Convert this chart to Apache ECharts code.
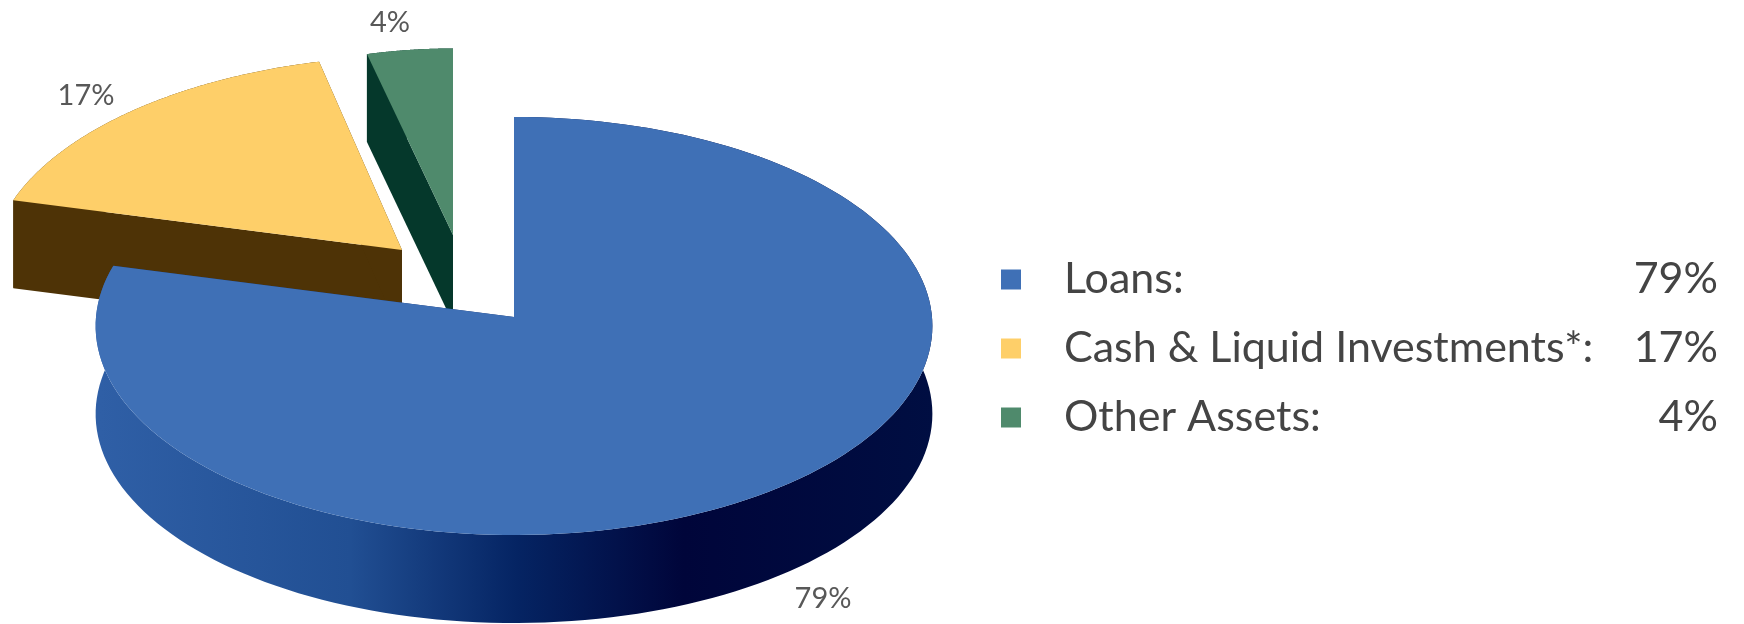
<!DOCTYPE html>
<html>
<head>
<meta charset="utf-8">
<style>html,body{margin:0;padding:0;background:#fff}#chart{width:1744px;height:624px}</style>
<script src="https://cdn.jsdelivr.net/npm/echarts@6/dist/echarts.min.js"></script>
</head>
<body>
<div id="chart"></div>
<script>
// Asset mix, in percent
const categories = ['Loans', 'Cash & Liquid Investments*', 'Other Assets'];
const shares = [79, 17, 4];

// Look of each slice
const topColors = ['#3f70b6', '#fecf69', '#4f8a6c'];
const cutColors = ['#17336e', '#4e3306', '#05382b'];
const rimStops = [
  [[0, '#2f5fa6'], [0.3, '#214f93'], [0.5, '#052463'], [0.7, '#00053a'], [1, '#000e42']],
  [[0, '#4e3306'], [1, '#4e3306']],
  [[0, '#05382b'], [1, '#05382b']]
];
const pullX = [0, -112, -61];
const pullY = [0, -67, -82];
const radiusScaleX = [1, 0.98, 0.86];
const radiusScaleY = [1, 0.97, 0.93];
const shear = [0, 0.08, 0];
const labelX = [823, 86, 390];
const labelY = [599, 96, 23];

// Projection of the tilted disc: the far side of the rim is drawn slightly smaller
const centerX = 514, centerY = 317, radiusX = 418, radiusY = 208.6, tilt = 0.043, depth = 88;
const total = shares.reduce((a, b) => a + b, 0);

function project(angle, i) {
  const x = Math.sin(angle) * radiusScaleX[i], y = Math.cos(angle) * radiusScaleY[i];
  const k = 1 / (1 + tilt * y);
  const dy = y * radiusY * k;
  return [centerX + pullX[i] + x * radiusX * k + shear[i] * dy, centerY + pullY[i] - dy];
}

function sliceItem(i) {
  return function (params, api) {
    const start = shares.slice(0, i).reduce((a, b) => a + b, 0);
    const a0 = start / total * Math.PI * 2;
    const a1 = a0 + api.value(0) / total * Math.PI * 2;
    const n = 160;
    const arc = [];
    for (let s = 0; s <= n; s++) arc.push(project(a0 + (a1 - a0) * s / n, i));
    const apex = [centerX + pullX[i], centerY + pullY[i]];
    const down = p => [p[0], p[1] + depth];
    const rim = arc.concat(arc.slice().reverse().map(down));
    const last = arc[arc.length - 1], first = arc[0];
    return {
      type: 'group',
      children: [
        { type: 'polygon', shape: { points: [apex, first, down(first), down(apex)] }, style: { fill: cutColors[i] } },
        { type: 'polygon', shape: { points: [apex, last, down(last), down(apex)] }, style: { fill: cutColors[i] } },
        { type: 'polygon', shape: { points: rim }, style: {
          fill: { type: 'linear', x: 100, y: 0, x2: 934, y2: 0, global: true,
            colorStops: rimStops[i].map(s => ({ offset: s[0], color: s[1] })) } } },
        { type: 'polygon', shape: { points: [apex].concat(arc) }, style: { fill: topColors[i] } },
        { type: 'text', style: { text: api.value(0) + '%', x: labelX[i], y: labelY[i], align: 'center', verticalAlign: 'middle',
          font: '29px Lato, "Open Sans", sans-serif', fill: '#585858' } }
      ]
    };
  };
}

// Blue slice goes last so it covers the pulled-out slices behind it
const drawOrder = [1, 2, 0];

const chart = echarts.init(document.getElementById('chart'), null, { renderer: 'canvas' });
chart.setOption({
  animation: false,
  backgroundColor: '#fff',
  legend: {
    data: categories.map(name => ({ name, icon: 'rect' })),
    orient: 'vertical',
    left: 996,
    top: 253,
    itemWidth: 20,
    itemHeight: 20,
    itemGap: 26,
    selectedMode: false,
    formatter: name => `{n|${name}:}{v|${shares[categories.indexOf(name)]}%}`,
    textStyle: {
      rich: {
        n: { fontFamily: 'Lato, "Open Sans", sans-serif', fontSize: 43, color: '#444444', width: 592, padding: [0, 0, 0, 38], lineHeight: 50 },
        v: { fontFamily: 'Lato, "Open Sans", sans-serif', fontSize: 43, color: '#444444', width: 62, align: 'right', lineHeight: 50 }
      }
    }
  },
  series: drawOrder.map(i => ({
    type: 'custom',
    name: categories[i],
    coordinateSystem: 'none',
    itemStyle: { color: topColors[i] },
    renderItem: sliceItem(i),
    data: [[shares[i]]]
  }))
});
</script>
</body>
</html>
